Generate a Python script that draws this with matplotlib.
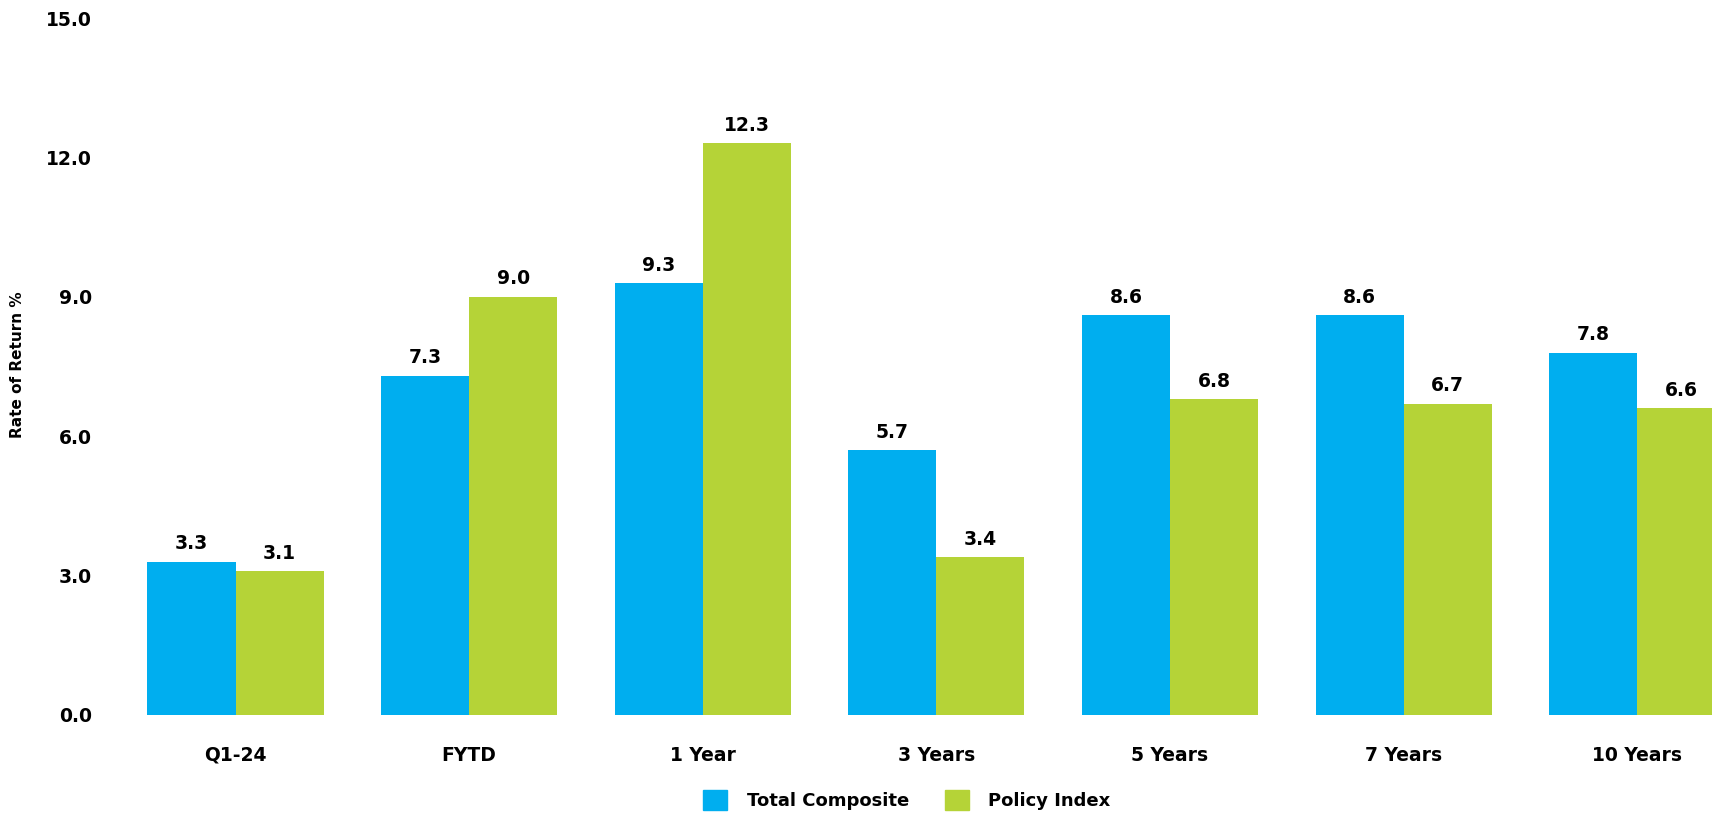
import numpy as np
import matplotlib
matplotlib.use('Agg')
import matplotlib.pyplot as plt
from matplotlib.patches import Patch

plt.rcParams['font.family'] = ['DejaVu Sans']
plt.rcParams['font.weight'] = 'bold'

categories = ['Q1-24', 'FYTD', '1 Year', '3 Years', '5 Years', '7 Years', '10 Years']
total_composite = [3.3, 7.3, 9.3, 5.7, 8.6, 8.6, 7.8]
policy_index = [3.1, 9.0, 12.3, 3.4, 6.8, 6.7, 6.6]
series_names = ['Total Composite', 'Policy Index']
y_ticks = [0.0, 3.0, 6.0, 9.0, 12.0, 15.0]

blue = '#00AEEF'
green = '#B5D337'

fig = plt.figure(figsize=(17.12, 8.17), dpi=100)
ax = fig.add_axes([100 / 1712, 102 / 817, 1 - 100 / 1712, (715 - 18) / 817])

x = np.arange(len(categories))
w = 0.377
b1 = ax.bar(x - w / 2, total_composite, w, color=blue)
b2 = ax.bar(x + w / 2, policy_index, w, color=green)

for bars, vals in ((b1, total_composite), (b2, policy_index)):
    for bar, v in zip(bars, vals):
        ax.annotate(f'{v:.1f}', (bar.get_x() + bar.get_width() / 2, v),
                    xytext=(0, 6), textcoords='offset points',
                    ha='center', va='bottom', fontsize=13.5, fontweight='bold')

ax.set_xlim(-0.58, 6.32)
ax.set_ylim(0, 15)
ax.set_yticks(y_ticks)
ax.set_yticklabels([f'{t:.1f}' for t in y_ticks], fontsize=13.5, fontweight='bold')
ax.set_xticks(x)
ax.set_xticklabels(categories, fontsize=13.5, fontweight='bold')
ax.tick_params(length=0)
ax.tick_params(axis='x', pad=22)
ax.tick_params(axis='y', pad=6)
for s in ax.spines.values():
    s.set_visible(False)

fig.text(18 / 1712, (817 - 365) / 817, 'Rate of Return %', rotation=90,
         ha='center', va='center', fontsize=11, fontweight='bold')

handles = [Patch(color=blue), Patch(color=green)]
fig.legend(handles, series_names, loc='center', bbox_to_anchor=(907 / 1712, 17 / 817),
           ncol=2, frameon=False, handlelength=1.3, handleheight=1.3,
           handletextpad=1.1, columnspacing=2.0,
           prop={'weight': 'bold', 'size': 13})

plt.savefig('out.png', dpi=100)
